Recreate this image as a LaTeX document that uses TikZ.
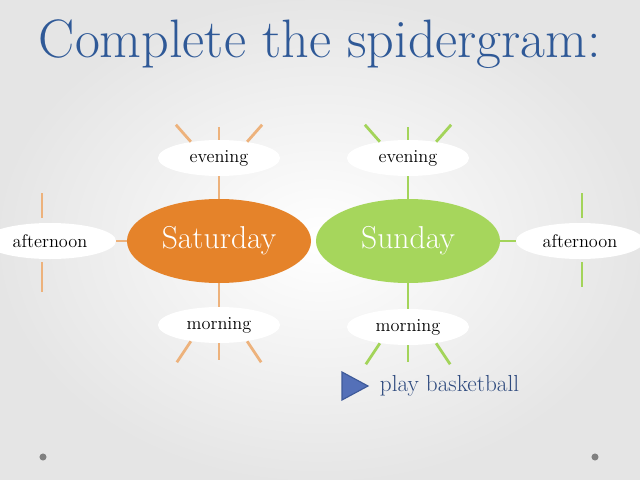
\documentclass[tikz,border=0pt]{standalone}
\usetikzlibrary{shapes.geometric}
\definecolor{titleblue}{HTML}{2F5997}
\definecolor{satfill}{HTML}{E5832A}
\definecolor{sunfill}{HTML}{A6D65C}
\definecolor{satspoke}{HTML}{EDB27C}
\definecolor{sunspoke}{HTML}{A3D45A}
\definecolor{playblue}{HTML}{5470B8}
\definecolor{playedge}{HTML}{3E5A99}
\definecolor{playtext}{HTML}{2E4A7E}
\begin{document}
\begin{tikzpicture}[x=0.025cm, y=-0.025cm,
                    day/.style={ellipse, minimum width=4.6cm, minimum height=2.1cm,
                      inner sep=0pt, text=white, font=\fontsize{22.5}{26}\selectfont},
                    part/.style={ellipse, fill=white, minimum width=3.05cm,
                      minimum height=0.9cm, inner sep=0pt, text=black,
                      font=\fontsize{13}{15}\selectfont},
                    satline/.style={draw=satspoke, line width=2pt},
                    sunline/.style={draw=sunspoke, line width=2pt}]
  \useasboundingbox (0,0) rectangle (640,480);
  \fill[inner color=white, outer color=black!10] (0,0) rectangle (640,480);
  \node[text=titleblue, font=\fontsize{38.5}{44}\selectfont, anchor=base] (title)
    at (320,57) {Complete the spidergram:};
  \node[day, fill=satfill] (sat) at (219,241) {Saturday};
  \node[day, fill=sunfill] (sun) at (408,241) {Sunday};
  \node[part] (satEve) at (219,158) {evening};
  \node[part] (sunEve) at (408,158) {evening};
  \node[part, minimum width=3.3cm] (satAft) at (50,241) {afternoon};
  \node[part, minimum width=3.2cm] (sunAft) at (580,241) {afternoon};
  \node[part] (satMor) at (219,325) {morning};
  \node[part] (sunMor) at (408,327) {morning};
  \draw[satline] (satEve) -- (sat);
  \draw[satline] (satAft) -- (sat);
  \draw[satline] (satMor) -- (sat);
  \draw[sunline] (sunEve) -- (sun);
  \draw[sunline] (sunAft) -- (sun);
  \draw[sunline] (sunMor) -- (sun);
  \foreach \n/\s in {satEve/satline, sunEve/sunline}{
    \draw[\s] (\n.150) -- ++(-15,-17);
    \draw[\s] (\n.north) -- ++(0,-13);
    \draw[\s] (\n.30) -- ++(15,-17);
  }
  \foreach \n/\s in {satMor/satline, sunMor/sunline}{
    \draw[\s] (\n.210) -- ++(-14,21);
    \draw[\s] (\n.south) -- ++(0,17);
    \draw[\s] (\n.330) -- ++(14,21);
  }
  \draw[satline] ([shift={(-8,-5)}]satAft.north) -- ++(0,-25);
  \draw[satline] ([shift={(-8,3)}]satAft.south) -- ++(0,30);
  \draw[sunline] ([shift={(2,-5)}]sunAft.north) -- ++(0,-25);
  \draw[sunline] ([shift={(2,3)}]sunAft.south) -- ++(0,25);
  \filldraw[fill=playblue, draw=playedge, line width=0.8pt]
    (342,372) -- (368,386) -- (342,400) -- cycle;
  \node[anchor=west, text=playtext, font=\fontsize{16.5}{19}\selectfont] (play)
    at (375,386) {play basketball};
  \fill[black!50] (43,457) circle (2.5pt);
  \fill[black!50] (595,457) circle (2.5pt);
\end{tikzpicture}
\end{document}
